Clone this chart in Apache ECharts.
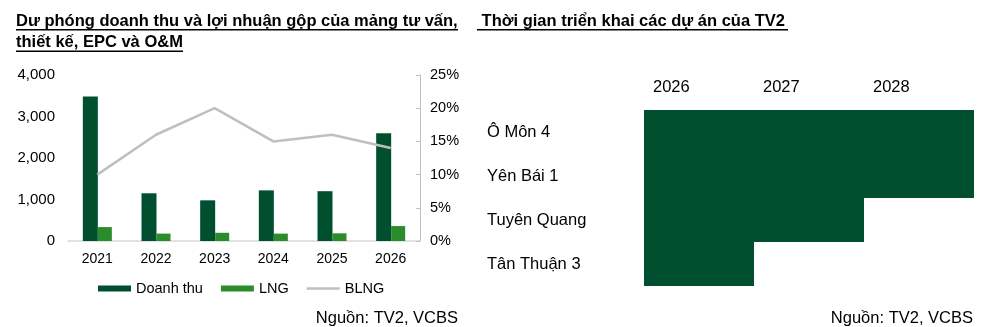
<!DOCTYPE html>
<html><head><meta charset="utf-8">
<script src="https://cdn.jsdelivr.net/npm/echarts@6/dist/echarts.min.js"></script>
<style>html,body{margin:0;padding:0;background:#fff}#c{width:982px;height:327px}</style>
</head><body><div id="c"></div>
<script>
// ---- Left chart data ----
const years = ['2021', '2022', '2023', '2024', '2025', '2026'];
const doanhThu = [3480, 1150, 980, 1220, 1200, 2595];
const lng = [335, 178, 198, 178, 185, 360];
const blng = [0.10, 0.16, 0.20, 0.15, 0.16, 0.14];
const leftTicks = [0, 1000, 2000, 3000, 4000];
const rightTicks = [0, 0.05, 0.10, 0.15, 0.20, 0.25];

// ---- Right chart (timeline) data ----
const projects = ['Ô Môn 4', 'Yên Bái 1', 'Tuyên Quang', 'Tân Thuận 3'];
const startYear = [2026, 2026, 2026, 2026];
const endYear = [2028, 2028, 2027, 2026];
const timelineYears = ['2026', '2027', '2028'];

const FONT = '"Liberation Sans", Arial, sans-serif';
const baseYear = +timelineYears[0];
const offsets = startYear.map(s => s - baseYear);
const durations = startYear.map((s, i) => endYear[i] - s + 1);

const chart = echarts.init(document.getElementById('c'), null, {renderer: 'canvas'});
chart.setOption({
  backgroundColor: '#fff',
  animation: false,
  textStyle: {fontFamily: FONT, color: '#000'},
  title: [
    {text: 'Dư phóng doanh thu và lợi nhuận gộp của mảng tư vấn,\nthiết kế, EPC và O&M', left: 11, top: 6,
     textStyle: {fontFamily: FONT, fontSize: 16.5, fontWeight: 'bold', color: '#000', lineHeight: 21}},
    {text: ' Thời gian triển khai các dự án của TV2', left: 472, top: 6,
     textStyle: {fontFamily: FONT, fontSize: 16.5, fontWeight: 'bold', color: '#000', lineHeight: 21}},
    {text: 'Nguồn: TV2, VCBS', right: 519, top: 305,
     textStyle: {fontFamily: FONT, fontSize: 16.5, fontWeight: 'normal', color: '#000'}},
    {text: 'Nguồn: TV2, VCBS', right: 4, top: 305,
     textStyle: {fontFamily: FONT, fontSize: 16.5, fontWeight: 'normal', color: '#000'}}
  ],
  graphic: [
    {type: 'rect', shape: {x: 16, y: 29, width: 442, height: 1.6}, style: {fill: '#000'}},
    {type: 'rect', shape: {x: 16, y: 50.5, width: 167, height: 1.6}, style: {fill: '#000'}},
    {type: 'rect', shape: {x: 477, y: 29, width: 311, height: 1.6}, style: {fill: '#000'}}
  ],
  legend: {
    left: 93, top: 276, itemWidth: 33, itemHeight: 6, itemGap: 18,
    textStyle: {fontFamily: FONT, fontSize: 14.5, color: '#000'},
    data: [
      {name: 'Doanh thu', icon: 'rect'},
      {name: 'LNG', icon: 'rect'},
      {name: 'BLNG', icon: 'path://M0,0 L33,0 L33,2.5 L0,2.5 Z', itemStyle: {color: '#bfbfbf'}}
    ]
  },
  grid: [
    {left: 68, top: 75, width: 352, height: 166},
    {left: 644, top: 110, width: 330, height: 176}
  ],
  xAxis: [
    {gridIndex: 0, type: 'category', data: years,
     axisLine: {lineStyle: {color: '#d9d9d9', width: 1.5}}, axisTick: {show: false},
     axisLabel: {fontFamily: FONT, fontSize: 14, color: '#000', margin: 11}},
    {gridIndex: 1, type: 'value', position: 'top', min: 0, max: timelineYears.length, interval: 1,
     axisLine: {show: false}, axisTick: {show: false}, splitLine: {show: false},
     axisLabel: {fontFamily: FONT, fontSize: 16.5, color: '#000', margin: 14, align: 'left',
       padding: [0, 0, 0, 9], showMaxLabel: false,
       formatter: v => timelineYears[v] || ''}}
  ],
  yAxis: [
    {gridIndex: 0, type: 'value', min: leftTicks[0], max: leftTicks[leftTicks.length - 1], interval: leftTicks[1] - leftTicks[0],
     axisLine: {show: false}, axisTick: {show: false}, splitLine: {show: false},
     axisLabel: {fontFamily: FONT, fontSize: 15, color: '#000', margin: 13,
       formatter: v => v.toLocaleString('en-US')}},
    {gridIndex: 0, type: 'value', position: 'right', min: rightTicks[0], max: rightTicks[rightTicks.length - 1], interval: rightTicks[1] - rightTicks[0],
     axisLine: {show: true, lineStyle: {color: '#bfbfbf', width: 1}},
     axisTick: {show: true, inside: true, length: 4, lineStyle: {color: '#bfbfbf'}},
     splitLine: {show: false},
     axisLabel: {fontFamily: FONT, fontSize: 14.5, color: '#000', margin: 10,
       formatter: v => Math.round(v * 100) + '%'}},
    {gridIndex: 1, type: 'category', data: projects, inverse: true,
     axisLine: {show: false}, axisTick: {show: false}, splitLine: {show: false},
     axisLabel: {fontFamily: FONT, fontSize: 16.5, color: '#000', align: 'left', margin: 157}}
  ],
  series: [
    {name: 'Doanh thu', type: 'bar', xAxisIndex: 0, yAxisIndex: 0, data: doanhThu,
     barWidth: 15, barGap: '0%', itemStyle: {color: '#004f2f'}},
    {name: 'LNG', type: 'bar', xAxisIndex: 0, yAxisIndex: 0, data: lng,
     barWidth: 14, barGap: '0%', itemStyle: {color: '#2a8c2a'}},
    {name: 'BLNG', type: 'line', xAxisIndex: 0, yAxisIndex: 1, data: blng,
     symbol: 'none', lineStyle: {color: '#bfbfbf', width: 2.5}, itemStyle: {color: '#bfbfbf'}},
    {name: 'offset', type: 'bar', xAxisIndex: 1, yAxisIndex: 2, stack: 'g', data: offsets,
     barWidth: '100%', itemStyle: {color: 'transparent'}, silent: true},
    {name: 'Thời gian', type: 'bar', xAxisIndex: 1, yAxisIndex: 2, stack: 'g', data: durations,
     barWidth: '100%', itemStyle: {color: '#00502f', borderColor: '#00502f', borderWidth: 1.5}}
  ]
});
</script>
</body></html>
